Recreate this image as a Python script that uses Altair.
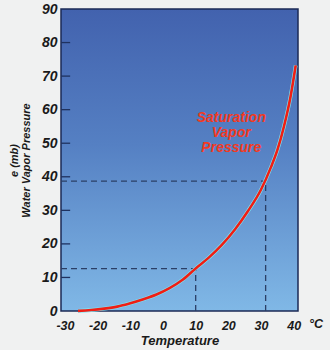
import altair as alt
import pandas as pd

# ---- data ----
temps = [-26, -22, -18, -14, -10, -6, -2, 2, 6, 10, 14, 18, 22, 26, 30, 33, 35, 37, 39, 40.6]
press = [0.05, 0.3, 0.7, 1.3, 2.3, 3.5, 4.9, 6.8, 9.3, 12.7, 15.9, 19.7, 24.3, 29.8, 36.2, 42.8, 48.0, 55.0, 63.8, 73.2]

guide_t = [10, 31.4]
guide_e = [12.6, 38.7]

x_ticks = [-30, -20, -10, 0, 10, 20, 30, 40]
y_ticks = [0, 10, 20, 30, 40, 50, 60, 70, 80, 90]
inner_ticks = [10, 20, 30, 40, 50, 60, 70, 80]

curve_label = ["Saturation\nVapor\nPressure"]
curve_label_pos = [20.9, 57.5]
unit_label = ["°C"]
unit_pos = [46.8, -3.9]

X_MIN, X_MAX = -31.2, 41.3
FONT = "Liberation Sans"

df = pd.DataFrame({"t": temps, "e": press})
gdf = pd.DataFrame({"t": guide_t, "e": guide_e, "t0": [X_MIN] * len(guide_t), "e0": [0] * len(guide_t)})
tdf = pd.DataFrame({"v": inner_ticks, "a": [X_MIN] * len(inner_ticks), "b": [X_MIN + 2.8] * len(inner_ticks)})

xs = alt.Scale(domain=[X_MIN, X_MAX], nice=False, zero=False)
ys = alt.Scale(domain=[0, 90], nice=False, zero=False)

x_axis = alt.Axis(
    values=x_ticks, ticks=False, domain=False, grid=False, labelOverlap=False,
    labelExpr="'' + datum.value",
    title="Temperature", labelPadding=8, titlePadding=3,
    labelFontSize=12.5, titleFontSize=13,
)
y_axis = alt.Axis(
    values=y_ticks, ticks=False, domain=False, grid=False, labelOverlap=False,
    title=["e (mb)", "Water Vapor Pressure"], labelPadding=4, titlePadding=10,
    labelFontSize=14, titleFontSize=11, titleLineHeight=12,
)

def X(f):
    return alt.X(f, scale=xs, axis=x_axis)

def Y(f):
    return alt.Y(f, scale=ys, axis=y_axis)

bg = alt.Chart(pd.DataFrame({"a": [0]})).mark_rect(
    fill=alt.Gradient(
        gradient="linear",
        stops=[
            alt.GradientStop(color="#4262ae", offset=0),
            alt.GradientStop(color="#5580c3", offset=0.45),
            alt.GradientStop(color="#80b8e6", offset=1),
        ],
        x1=0, x2=0, y1=0, y2=1,
    ),
    stroke="#1b2a55",
    strokeWidth=1.5,
).encode(x=alt.value(0), x2=alt.value("width"), y=alt.value(0), y2=alt.value("height"))

ticks = alt.Chart(tdf).mark_rule(color="#1f3260", strokeWidth=1.3).encode(
    x=X("a:Q"), x2="b:Q", y=Y("v:Q"),
)

hguide = alt.Chart(gdf).mark_rule(color="#2b3f66", strokeWidth=1.3, strokeDash=[6, 4]).encode(
    x=X("t0:Q"), x2="t:Q", y=Y("e:Q"),
)
vguide = alt.Chart(gdf).mark_rule(color="#2b3f66", strokeWidth=1.3, strokeDash=[6, 4]).encode(
    x=X("t:Q"), y=Y("e0:Q"), y2="e:Q",
)

halo = alt.Chart(df).mark_line(color="#7ee8f5", strokeWidth=3.8, interpolate="monotone").encode(
    x=X("t:Q"), y=Y("e:Q")
)

curve = alt.Chart(df).mark_line(color="#f01e14", strokeWidth=2.6, interpolate="monotone").encode(
    x=X("t:Q"), y=Y("e:Q")
)

label = alt.Chart(pd.DataFrame({"s": curve_label, "x": [curve_label_pos[0]], "y": [curve_label_pos[1]]})).mark_text(
    lineBreak="\n", lineHeight=15, font=FONT, fontSize=14, fontWeight="bold", fontStyle="italic",
    color="#f23a22", align="center", baseline="middle",
).encode(x=X("x:Q"), y=Y("y:Q"), text="s:N")

unit = alt.Chart(pd.DataFrame({"s": unit_label, "x": [unit_pos[0]], "y": [unit_pos[1]]})).mark_text(
    font=FONT, fontSize=12.5, fontWeight="bold", fontStyle="italic", color="#1a1a1a",
    align="center", baseline="middle",
).encode(x=X("x:Q"), y=Y("y:Q"), text="s:N")

chart = alt.layer(bg, ticks, hguide, vguide, halo, curve, label, unit).properties(
    width=237,
    height=302,
    autosize=alt.AutoSizeParams(type="none"),
    padding={"left": 61, "top": 9, "right": 32, "bottom": 39},
    background="#f0f1f1",
).configure_view(stroke=None).configure_axis(
    labelOverlap=False,
    labelFont=FONT, labelFontWeight="bold", labelFontStyle="italic", labelColor="#1a1a1a",
    titleFont=FONT, titleFontWeight="bold", titleFontStyle="italic", titleColor="#1a1a1a",
)

chart.save("out.html", embed_options={"renderer": "svg", "actions": False})
